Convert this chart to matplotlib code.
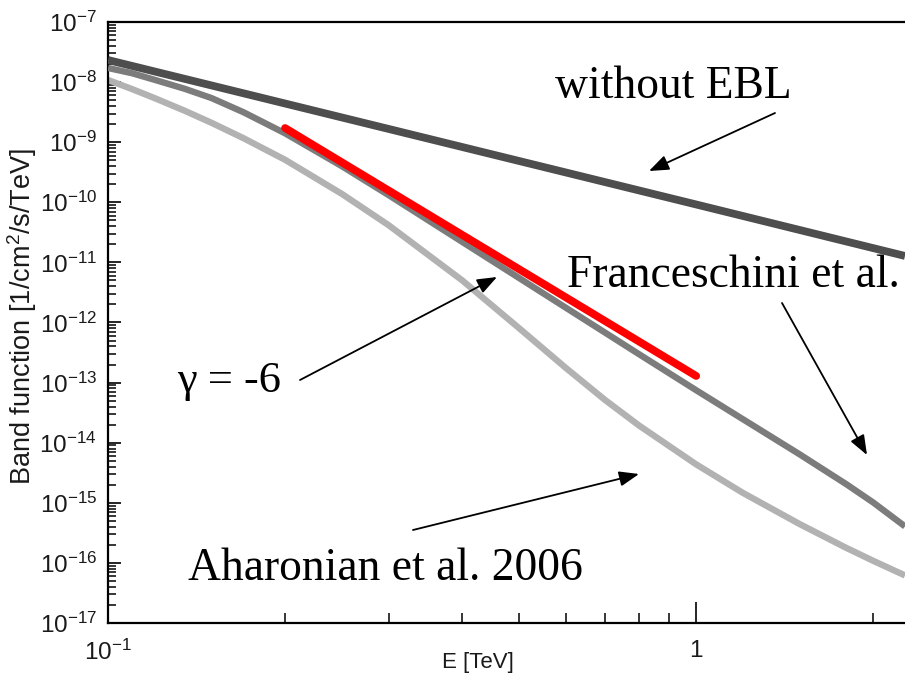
import math
import matplotlib
matplotlib.use("Agg")
import matplotlib.pyplot as plt
from matplotlib.ticker import LogLocator, NullFormatter, FuncFormatter

# ---------------- data ----------------
E_noebl = [0.1, 1.0, 2.265]
F_noebl = [2.33e-8, 9.2e-11, 1.28e-11]

E_model = [0.1, 0.11, 0.12, 0.135, 0.15, 0.17, 0.2, 0.25, 0.3, 0.4, 0.5,
           0.6, 0.7, 0.8, 1.0, 1.2, 1.5, 1.8, 2.0, 2.265]
F_franceschini = [1.718e-8, 1.40e-8, 1.092e-8, 7.74e-9, 5.42e-9, 3.15e-9,
                  1.406e-9, 3.97e-10, 1.317e-10, 2.20e-11, 5.50e-12,
                  1.769e-12, 6.79e-13, 2.96e-13, 7.47e-14, 2.47e-14,
                  6.39e-15, 2.04e-15, 1.012e-15, 4.05e-16]
F_aharonian = [1.084e-8, 7.62e-9, 5.42e-9, 3.34e-9, 2.10e-9, 1.165e-9,
               5.10e-10, 1.374e-10, 4.16e-11, 5.04e-12, 8.04e-13,
               1.763e-13, 5.14e-14, 1.925e-14, 4.36e-15, 1.467e-15,
               4.42e-16, 1.777e-16, 1.083e-16, 6.19e-17]

E_fit = [0.2, 1.0]
F_fit = [1.72e-9, 1.29e-13]

x_limits = (0.1, 2.265)
y_limits = (1e-17, 1e-7)

xlabel_text = "E [TeV]"
ylabel_text = r"Band function [1/cm$^2$/s/TeV]"
label_noebl = "without EBL"
label_franc = "Franceschini et al."
label_gamma = "\u03b3 = -6"
label_ahar = "Aharonian et al. 2006"

# ---------------- style ----------------
plt.rcParams["font.family"] = ["Liberation Sans", "DejaVu Sans"]
plt.rcParams["mathtext.fontset"] = "custom"
plt.rcParams["mathtext.rm"] = "Liberation Sans"
plt.rcParams["mathtext.it"] = "Liberation Sans:italic"
plt.rcParams["mathtext.bf"] = "Liberation Sans:bold"

W, H = 905, 683
fig = plt.figure(figsize=(W / 100, H / 100), dpi=100)
L, R, T, B = 108, 905, 22, 623
ax = fig.add_axes([L / W, 1 - B / H, (R - L) / W, (B - T) / H])

ax.plot(E_model, F_aharonian, color="#b2b2b2", lw=4.6,
        solid_capstyle="butt", solid_joinstyle="round", zorder=2)
ax.plot(E_model, F_franceschini, color="#7c7c7c", lw=4.6,
        solid_capstyle="butt", solid_joinstyle="round", zorder=3)
ax.plot(E_noebl, F_noebl, color="#4e4e4e", lw=5.6,
        solid_capstyle="butt", zorder=4)
ax.plot(E_fit, F_fit, color="#ff0000", lw=5.6, solid_capstyle="round", zorder=5)

ax.set_xscale("log")
ax.set_yscale("log")
ax.set_xlim(*x_limits)
ax.set_ylim(*y_limits)

ax.yaxis.set_major_locator(LogLocator(base=10, numticks=20))
ax.yaxis.set_minor_locator(LogLocator(base=10, subs=range(2, 10), numticks=200))
ax.yaxis.set_minor_formatter(NullFormatter())
ax.xaxis.set_major_locator(LogLocator(base=10, numticks=20))
ax.xaxis.set_minor_locator(LogLocator(base=10, subs=range(2, 10), numticks=200))
ax.xaxis.set_minor_formatter(NullFormatter())


def xfmt(v, pos):
    e = int(round(math.log10(v)))
    if e == 0:
        return "1"
    return r"$10^{%d}$" % e


def yfmt(v, pos):
    e = int(round(math.log10(v)))
    return r"$10^{%d}$" % e


ax.xaxis.set_major_formatter(FuncFormatter(xfmt))
ax.yaxis.set_major_formatter(FuncFormatter(yfmt))

tick_color = "#1a1a1a"
ax.tick_params(axis="y", which="major", direction="in", length=9.5, width=1.2,
               labelsize=17.5, pad=8, left=True, right=False, labelcolor=tick_color)
ax.tick_params(axis="y", which="minor", direction="in", length=5.5, width=1.1,
               left=True, right=False)
ax.tick_params(axis="x", which="major", direction="in", length=15, width=1.2,
               labelsize=17.5, pad=12, bottom=True, top=False, labelcolor=tick_color)
ax.tick_params(axis="x", which="minor", direction="in", length=7.5, width=1.1,
               bottom=True, top=False)

for s in ["left", "bottom", "top"]:
    ax.spines[s].set_linewidth(1.6)
ax.spines["right"].set_visible(False)

ax.set_xlabel(xlabel_text, fontsize=16, color=tick_color)
ax.xaxis.set_label_coords((478 - L) / (R - L), -(652 - B) / (B - T))
ax.xaxis.label.set_va("top")
ax.set_ylabel(ylabel_text, fontsize=19.5, color=tick_color)
ax.yaxis.set_label_coords((22 - L) / (R - L), (B - 316) / (B - T))
ax.yaxis.label.set_va("center")


def fx(px):
    return (px - L) / (R - L)


def fy(py):
    return (B - py) / (B - T)


serif = ["Liberation Serif", "DejaVu Serif"]
tsize = 32.8
ax.text(fx(555), fy(98), label_noebl, transform=ax.transAxes, family=serif,
        fontsize=tsize, ha="left", va="baseline")
ax.text(fx(567), fy(287), label_franc, transform=ax.transAxes, family=serif,
        fontsize=tsize, ha="left", va="baseline")
ax.text(fx(177), fy(392), label_gamma, transform=ax.transAxes, family=serif,
        fontsize=32, ha="left", va="baseline")
ax.text(fx(188), fy(580), label_ahar, transform=ax.transAxes, family=serif,
        fontsize=tsize, ha="left", va="baseline")

arrow_kw = dict(arrowstyle="-|>,head_length=0.6,head_width=0.23",
                mutation_scale=20, lw=1.3, color="black",
                shrinkA=0, shrinkB=0)
arrows = [((775, 113), (649, 171)),
          ((782, 303), (867, 455)),
          ((300, 380), (497, 277)),
          ((413, 530), (639, 474))]
for (tx, ty), (hx, hy) in arrows:
    ax.annotate("", xy=(fx(hx), fy(hy)), xycoords="axes fraction",
                xytext=(fx(tx), fy(ty)), textcoords="axes fraction",
                arrowprops=arrow_kw, zorder=6)

fig.savefig("out.png", dpi=100)
